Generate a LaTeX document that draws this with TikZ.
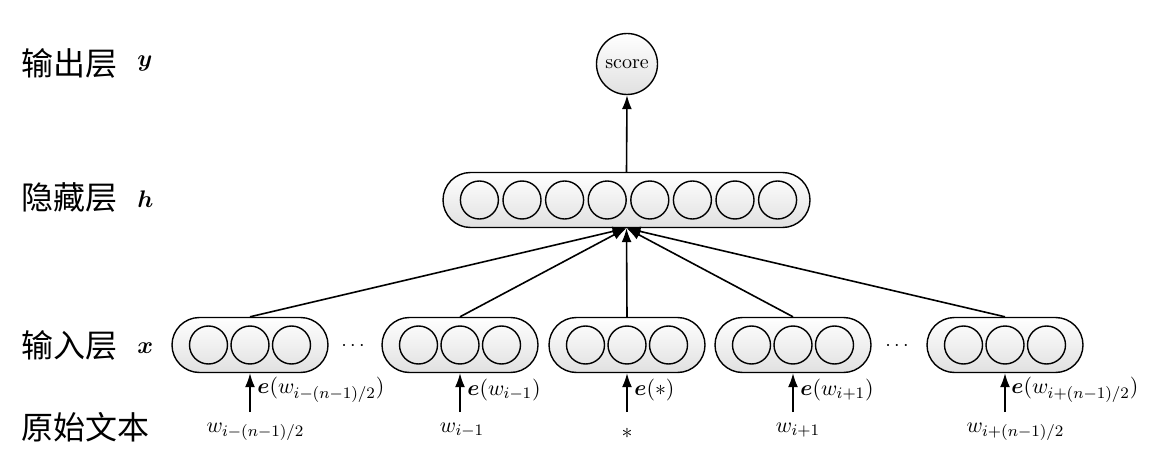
\documentclass[tikz,border=0pt]{standalone}
\usepackage{fontspec}
\usepackage{bm}
\newfontfamily\cjk{Noto Sans CJK SC}
\usetikzlibrary{arrows.meta}
\begin{document}
\begin{tikzpicture}[x=0.5pt,y=-0.5pt,
  capsule/.style={draw, line width=0.7pt, rounded corners=13.75pt, minimum width=78pt, minimum height=27.5pt, top color=white, bottom color=black!12, inner sep=0},
  hcapsule/.style={capsule, minimum width=183.5pt},
  unit/.style={circle, draw, line width=0.7pt, minimum size=19pt, inner sep=0},
  outunit/.style={circle, draw, line width=0.7pt, minimum size=30.5pt, inner sep=0, top color=white, bottom color=black!12},
  conn/.style={line width=0.8pt, -{Latex[length=7pt,width=5pt]}},
  lab/.style={font=\fontsize{16}{18}\selectfont\cjk, anchor=west, inner sep=0},
  mlab/.style={font=\fontsize{13}{15}\selectfont, anchor=base west, inner sep=0},
  elab/.style={font=\fontsize{11}{13}\selectfont, anchor=west, inner sep=0},
  wlab/.style={font=\fontsize{11}{13}\selectfont, anchor=base, inner sep=0}
]
\useasboundingbox (0,0) rectangle (1152,465);

% left labels
\node[lab] (t1) at (21,63) {输出层};
\node[mlab] (m1) at (137,67) {$\bm{y}$};
\node[lab] (t2) at (21,197) {隐藏层};
\node[mlab] (m2) at (137,207) {$\bm{h}$};
\node[lab] (t3) at (21,345) {输入层};
\node[mlab] (m3) at (137,353) {$\bm{x}$};
\node[lab] (t4) at (21,427) {原始文本};

% output
\node[outunit] (score) at (627,64) {score};

% hidden
\node[hcapsule] (hid) at (626.5,200) {};
\foreach \k in {1,...,8}
  \node[unit] (h\k) at ({628.5+(\k-4.5)*42.6},200) {};
\draw[conn] (hid.north) -- (score.south);

% inputs
\foreach \i/\x in {1/250,2/460,3/627,4/793,5/1005} {
  \node[capsule] (in\i) at (\x,345) {};
  \foreach \j in {1,2,3}
    \node[unit] (in\i c\j) at ({\x+(\j-2)*41.5},345) {};
  \coordinate (src\i) at (\x,412);
  \draw[conn] (src\i) -- (in\i.south);
  \draw[conn] (in\i.north) -- (hid.south);
}

\node (dots1) at (353,346) {$\cdots$};
\node (dots2) at (897,346) {$\cdots$};

% embedding labels
\node[elab] (e1) at (257,390) {$\bm{e}(w_{i-(n-1)/2})$};
\node[elab] (e2) at (467,390) {$\bm{e}(w_{i-1})$};
\node[elab] (e3) at (634,390) {$\bm{e}(*)$};
\node[elab] (e4) at (800,390) {$\bm{e}(w_{i+1})$};
\node[elab] (e5) at (1011,390) {$\bm{e}(w_{i+(n-1)/2})$};

% raw words
\node[wlab] (w1) at (255.5,432) {$w_{i-(n-1)/2}$};
\node[wlab] (w2) at (462,432) {$w_{i-1}$};
\node[wlab] (w3) at (627,438) {$*$};
\node[wlab] (w4) at (798,432) {$w_{i+1}$};
\node[wlab] (w5) at (1015.5,432) {$w_{i+(n-1)/2}$};
\end{tikzpicture}
\end{document}
